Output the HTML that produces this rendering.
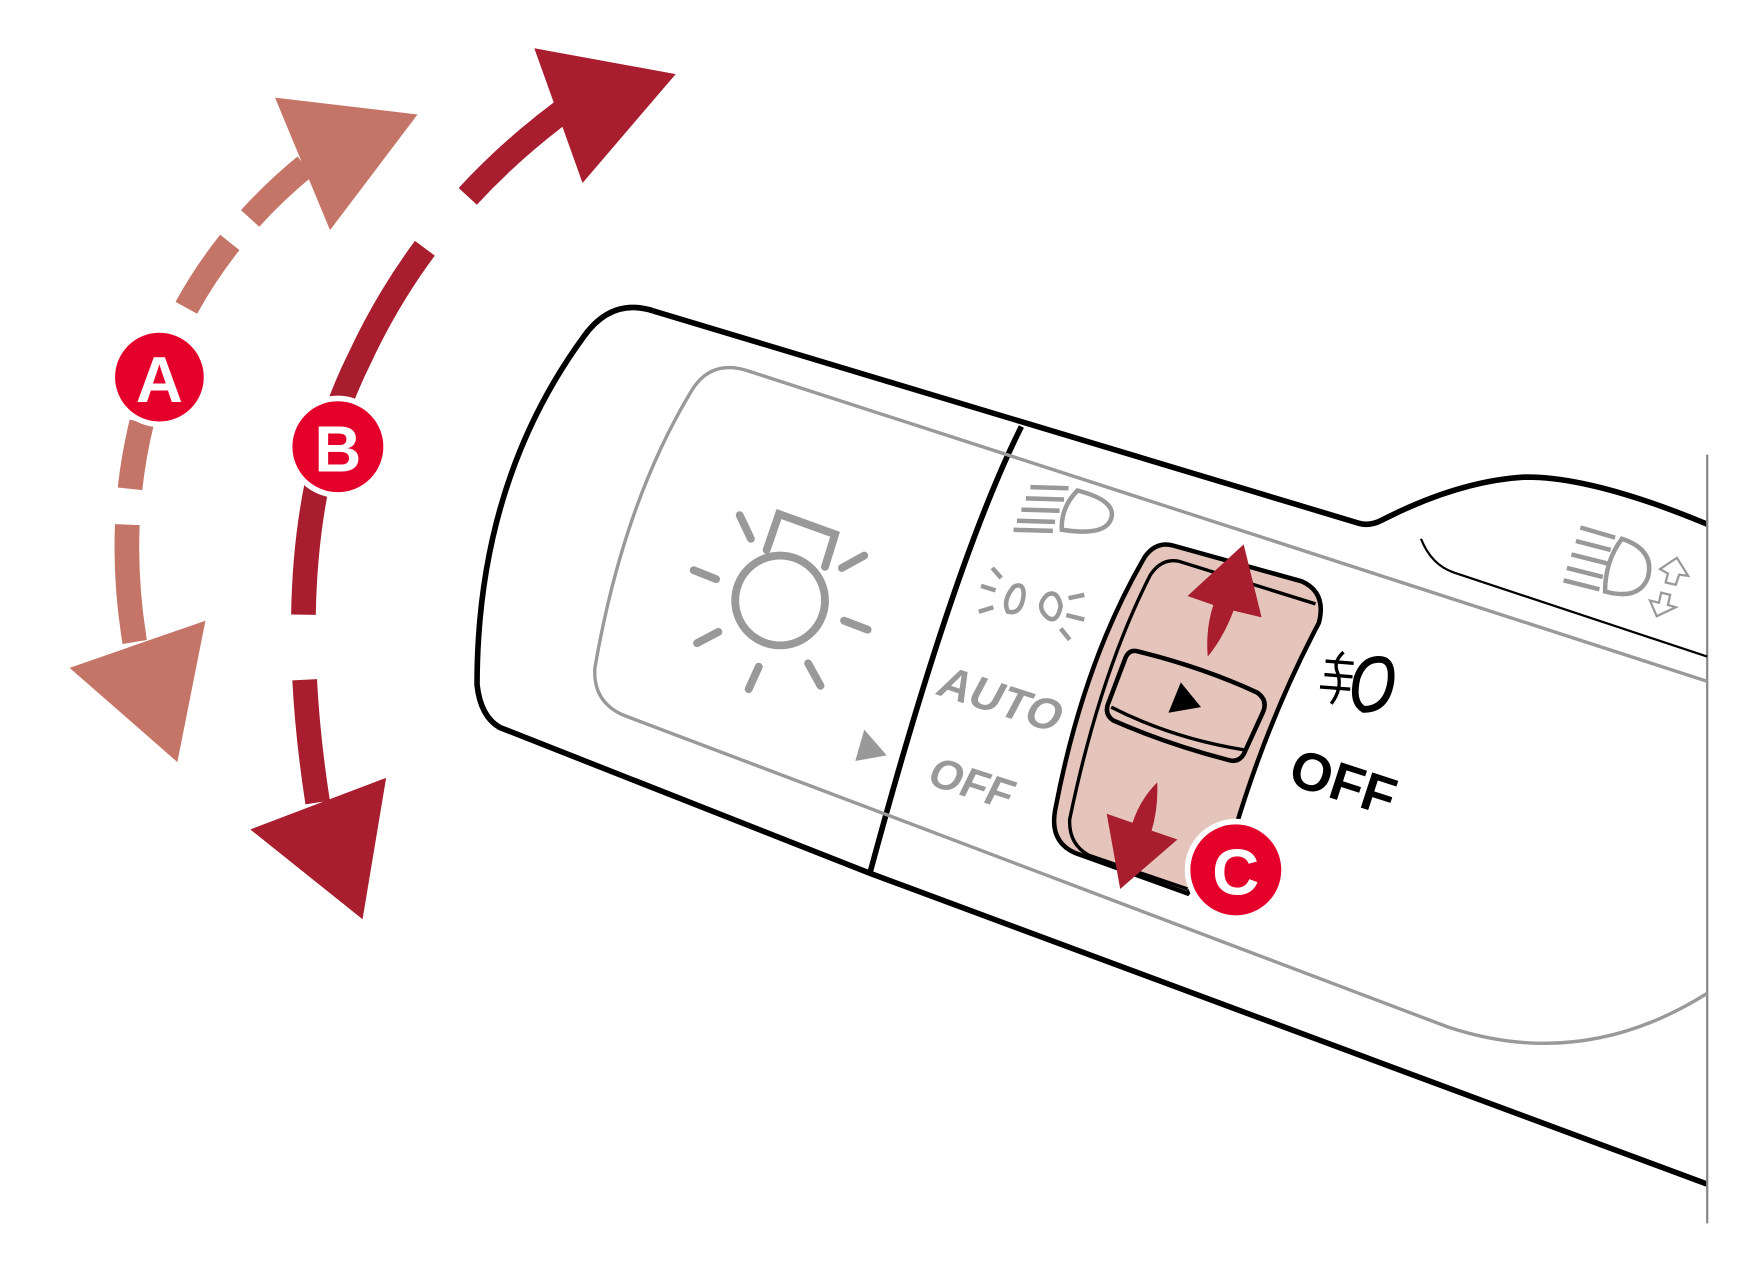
<!DOCTYPE html>
<html><head><meta charset="utf-8"><style>html,body{margin:0;padding:0;background:#fff}svg{display:block}</style></head><body>
<svg width="1751" height="1270" viewBox="0 0 1560 1131.5" xmlns="http://www.w3.org/2000/svg">
<!-- A arrows -->
<path d="M120,572 C95,420 135,260 272,148" fill="none" stroke="#c57567" stroke-width="22" stroke-dasharray="105,32,60,40,40,30,70,28,90"/>
<polygon points="245,87 372,102 294,205" fill="#c57567"/>
<polygon points="62,595 183,553 158,679" fill="#c57567"/>
<!-- B arrows -->
<path d="M283,715 Q245,470 320,320 Q380,190 500,100" fill="none" stroke="#a81e2e" stroke-width="22" stroke-dasharray="110,58,150,40,160,60,200"/>
<polygon points="476,43 602,66 519,163" fill="#a81e2e"/>
<polygon points="223,739 344,693 323,819" fill="#a81e2e"/>
<!-- stalk outer -->
<path d="M582,277 Q545,265 520,300 Q425,430 425,610 Q428,638 445,648 L775,778 L1521,1055" fill="none" stroke="#000" stroke-width="5"/>
<path d="M582,277 L1210,466 Q1220,469 1230,464 Q1300,428 1360,425 Q1420,425 1521,467" fill="none" stroke="#000" stroke-width="5"/>
<line x1="1521" y1="405" x2="1521" y2="1090" stroke="#888" stroke-width="2"/>
<path d="M910,380 Q850,500 775,778" fill="none" stroke="#000" stroke-width="5"/>
<!-- inner gray panel -->
<path d="M665,330 Q632,320 615,350 Q555,450 530,595 Q528,625 555,637 L1290,915 Q1410,955 1521,885" fill="none" stroke="#999" stroke-width="3"/>
<line x1="665" y1="330" x2="1521" y2="607" stroke="#999" stroke-width="3"/>
<path d="M1266,480 Q1275,503 1295,510 L1521,585" fill="none" stroke="#000" stroke-width="2"/>
<!-- sun icon -->
<g stroke="#999" stroke-width="7" stroke-linecap="round" fill="none">
<circle cx="695" cy="535" r="40"/>
<line x1="659" y1="459" x2="669" y2="480"/><line x1="618" y1="508" x2="638" y2="516"/>
<line x1="621" y1="573" x2="640" y2="563"/><line x1="667" y1="614" x2="676" y2="594"/>
<line x1="720" y1="591" x2="731" y2="611"/><line x1="752" y1="553" x2="773" y2="561"/>
<line x1="750" y1="506" x2="770" y2="495"/>
<path d="M683,490 L694,458 L744,476 L735,505"/>
</g>
<polygon points="770,650 790,673 762,678" fill="#999"/>
<!-- gray labels -->
<g font-family="Liberation Sans, sans-serif" font-weight="bold" fill="#999">
<g transform="translate(832,618) rotate(18) skewX(-10)"><text x="0" y="0" font-size="40">AUTO</text></g>
<g transform="translate(824,698) rotate(18) skewX(-8)"><text x="0" y="0" font-size="38">OFF</text></g>
</g>
<!-- gray headlight icons -->
<g stroke="#999" stroke-width="4" fill="none">
<line x1="918" y1="434" x2="952" y2="435"/><line x1="914" y1="444" x2="948" y2="445"/><line x1="910" y1="454" x2="944" y2="455"/><line x1="906" y1="464" x2="940" y2="465"/><line x1="903" y1="472" x2="938" y2="473"/>
<path d="M960,437 Q995,446 990,462 Q985,478 946,472 Q945,452 960,437Z"/>
<path d="M903,523 Q912,518 912,530 Q910,548 898,545 Q893,535 903,523Z"/>
<path d="M933,530 Q942,525 945,540 Q942,556 933,550 Q922,540 933,530Z"/>
<line x1="874" y1="522" x2="887" y2="526"/><line x1="872" y1="545" x2="885" y2="541"/><line x1="884" y1="506" x2="892" y2="515"/>
<line x1="952" y1="533" x2="966" y2="530"/><line x1="950" y1="548" x2="966" y2="552"/><line x1="945" y1="560" x2="953" y2="570"/>
<line x1="1408" y1="470" x2="1439" y2="479"/><line x1="1404" y1="482" x2="1435" y2="490"/><line x1="1400" y1="494" x2="1432" y2="502"/><line x1="1396" y1="506" x2="1428" y2="514"/><line x1="1393" y1="517" x2="1425" y2="525"/>
<path d="M1445,480 Q1475,490 1468,515 Q1460,535 1430,527 Q1430,500 1445,480Z"/>
<path d="M1494,497 L1504,513 L1496,512 L1493,521 L1484,519 L1486,511 L1479,507Z" stroke-width="2"/>
<path d="M1476,549 L1470,535 L1478,537 L1480,528 L1488,530 L1486,539 L1493,541Z" stroke-width="2"/>
</g>
<!-- thumbwheel -->
<path d="M1045,486 L1160,518 Q1182,528 1175,555 Q1130,640 1100,740 L1058,796 L958,760 Q935,750 940,722 Q965,590 1020,496 Q1030,482 1045,486Z" fill="#e5c5bb" stroke="#000" stroke-width="4"/>
<path d="M1050,500 L1172,538 M1050,500 Q1035,497 1025,512 Q980,600 953,730 Q952,752 970,762 L1058,792" fill="none" stroke="#000" stroke-width="3"/>
<path d="M1012,580 Q1070,594 1120,617 Q1130,624 1125,635 L1108,672 Q1103,680 1094,677 Q1040,663 992,642 Q983,636 988,625 L1002,588 Q1005,579 1012,580Z" fill="#e5c5bb" stroke="#000" stroke-width="4"/>
<path d="M990,630 Q1045,658 1108,668" fill="none" stroke="#000" stroke-width="3"/>
<polygon points="1052,608 1070,630 1041,635" fill="#000"/>
<path d="M1108,485 L1124,550 L1099,544 Q1090,568 1076,585 Q1074,560 1081,539 L1058,531Z" fill="#a81e2e"/>
<path d="M1031,697 Q1032,720 1026,740 L1049,748 L998,792 L986,725 L1009,733 Q1016,712 1031,697Z" fill="#a81e2e"/>
<!-- fog icon -->
<g stroke="#000" stroke-width="3" fill="none">
<path d="M1224,588 Q1242,584 1239,608 Q1235,632 1215,632 Q1204,626 1209,604 Q1214,590 1224,588Z" stroke-width="6"/>
<line x1="1181" y1="589" x2="1206" y2="591"/><line x1="1180" y1="601" x2="1205" y2="603"/><line x1="1176" y1="612" x2="1203" y2="614"/>
<path d="M1197,581 Q1187,590 1192,600 Q1196,614 1186,627"/>
</g>
<text x="1146" y="698" font-family="Liberation Sans, sans-serif" font-weight="bold" font-size="48" fill="#000" transform="rotate(18 1146 698)">OFF</text>
<!-- circles -->
<g font-family="Liberation Sans, sans-serif" font-weight="bold" fill="#fff" text-anchor="middle">
<circle cx="142" cy="336" r="42" fill="#e4002b" stroke="#fff" stroke-width="5"/>
<text x="142" y="358" font-size="58">A</text>
<circle cx="301" cy="398" r="43" fill="#e4002b" stroke="#fff" stroke-width="5"/>
<text x="301" y="420" font-size="58">B</text>
<circle cx="1101" cy="775" r="43" fill="#e4002b" stroke="#fff" stroke-width="5"/>
<text x="1101" y="797" font-size="58">C</text>
</g>
</svg>
</body></html>
